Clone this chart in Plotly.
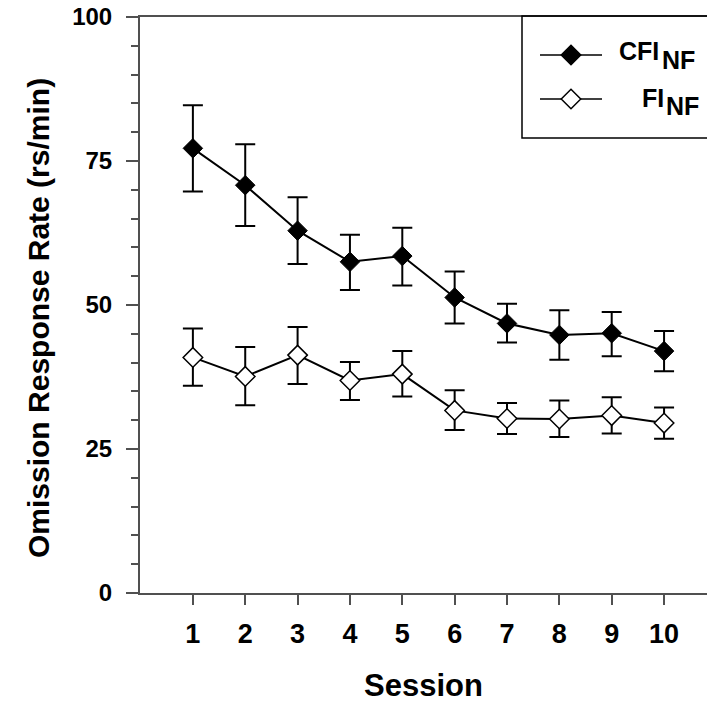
import plotly.graph_objects as go

sessions = [1, 2, 3, 4, 5, 6, 7, 8, 9, 10]
tick_labels = ["1", "2", "3", "4", "5", "6", "7", "8", "9", "10"]

cfi_mean = [77.2, 70.8, 62.9, 57.5, 58.5, 51.3, 46.8, 44.8, 45.1, 42.0]
cfi_upper = [84.7, 77.9, 68.7, 62.2, 63.4, 55.8, 50.2, 49.1, 48.8, 45.5]
cfi_lower = [69.7, 63.7, 57.1, 52.6, 53.4, 46.8, 43.5, 40.5, 41.1, 38.5]

fi_mean = [40.9, 37.6, 41.3, 36.9, 38.0, 31.7, 30.3, 30.2, 30.8, 29.5]
fi_upper = [45.9, 42.7, 46.2, 40.1, 42.0, 35.2, 33.0, 33.4, 34.0, 32.2]
fi_lower = [36.0, 32.6, 36.3, 33.5, 34.1, 28.3, 27.6, 27.1, 27.7, 26.8]

y_ticks = [0, 25, 50, 75, 100]

BOLD = "Liberation Sans"
NARROW = "Liberation Sans Narrow, Liberation Sans"
AX = "#505050"

def err(m, u, l):
    return dict(type="data", symmetric=False,
                array=[a - b for a, b in zip(u, m)],
                arrayminus=[b - c for b, c in zip(m, l)],
                color="black", thickness=2, width=10)

fig = go.Figure()
fig.add_trace(go.Scatter(
    x=sessions, y=fi_mean, mode="lines+markers", name="FI<sub>NF</sub>",
    error_y=err(fi_mean, fi_upper, fi_lower),
    line=dict(color="black", width=2),
    marker=dict(symbol="diamond", size=15, color="white",
                line=dict(color="black", width=1.5)),
    showlegend=False))
fig.add_trace(go.Scatter(
    x=sessions, y=cfi_mean, mode="lines+markers", name="CFI<sub>NF</sub>",
    error_y=err(cfi_mean, cfi_upper, cfi_lower),
    line=dict(color="black", width=2),
    marker=dict(symbol="diamond", size=15, color="black",
                line=dict(color="black", width=1)),
    showlegend=False))

# manual legend (pixel-like overlay axes)
fig.add_trace(go.Scatter(
    x=[571, 571], y=[55, 99], xaxis="x2", yaxis="y2", mode="markers",
    marker=dict(symbol="diamond", size=15, color=["black", "white"],
                line=dict(color="black", width=1.5)),
    showlegend=False, hoverinfo="skip"))

W, H = 707, 708
L, R, T, B = 140, 0, 17, 115

fig.update_layout(
    width=W, height=H,
    margin=dict(l=L, r=R, t=T, b=B),
    plot_bgcolor="white", paper_bgcolor="white",
    font=dict(family=BOLD, color="black"),
    xaxis=dict(
        range=[-0.01, 10.82], tickmode="array", tickvals=sessions, ticktext=tick_labels,
        showgrid=False, zeroline=False, showline=True, linecolor=AX, linewidth=2,
        mirror=True, ticks="outside", ticklen=10, tickwidth=1.5, tickcolor=AX,
        tickfont=dict(family=NARROW, size=27, weight="bold", color="black"),
        ticklabelstandoff=6,
        title=dict(text="Session", font=dict(family=BOLD, size=31, weight="bold"),
                   standoff=26),
    ),
    yaxis=dict(
        range=[0, 100], tickmode="array", tickvals=y_ticks,
        showgrid=False, zeroline=False, showline=True, linecolor=AX, linewidth=2,
        ticks="outside", ticklen=12, tickwidth=1.5, tickcolor=AX,
        minor=dict(dtick=5, ticks="outside", ticklen=7, tickwidth=1.5, tickcolor=AX),
        tickfont=dict(family=BOLD, size=24, weight="bold", color="black"),
        ticklabelstandoff=9,
    ),
    xaxis2=dict(overlaying="x", range=[L, W - R], visible=False, domain=[0, 1]),
    yaxis2=dict(overlaying="y", range=[H - B, T], visible=False, domain=[0, 1]),
)

def px(x):
    return (x - L) / (W - L - R)

def py(y):
    return (H - B - y) / (H - B - T)

# y-axis title
fig.add_annotation(text="Omission Response Rate (rs/min)", xref="paper", yref="paper",
                   x=px(38), y=py(318), xanchor="center", yanchor="middle",
                   textangle=-90, showarrow=False,
                   font=dict(family=BOLD, size=30, weight="bold", color="black"))

fig.add_shape(type="rect", xref="paper", yref="paper",
              x0=px(522), x1=1.05, y0=py(138), y1=py(16),
              line=dict(color="black", width=1.5), fillcolor="rgba(0,0,0,0)")
for yy in (55, 99):
    fig.add_shape(type="line", xref="paper", yref="paper",
                  x0=px(540), x1=px(602), y0=py(yy), y1=py(yy),
                  line=dict(color="black", width=1.5), layer="below")

legend_text = [("CFI", 617, 51), ("NF", 660, 60), ("FI", 640, 98), ("NF", 664, 106)]
for txt, xx, yy in legend_text:
    fig.add_annotation(text=txt, xref="paper", yref="paper", x=px(xx), y=py(yy),
                       xanchor="left", yanchor="middle", showarrow=False,
                       font=dict(family=NARROW, size=25, weight="bold", color="black"))

fig.write_html("out.html")
